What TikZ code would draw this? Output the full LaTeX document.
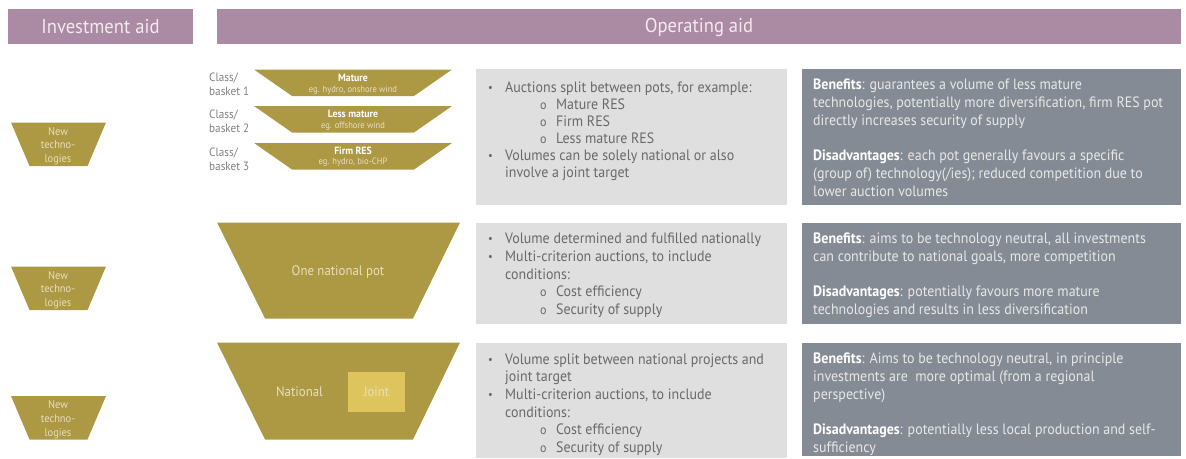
\documentclass[tikz,border=0pt]{standalone}
\usepackage{fontspec}
\usepackage{graphicx}
\setmainfont{PT Sans}[FakeStretch=0.93]
\definecolor{mauve}{RGB}{171,138,163}
\definecolor{gold}{RGB}{173,152,67}
\definecolor{jointc}{RGB}{222,196,92}
\definecolor{lgray}{RGB}{223,223,223}
\definecolor{dgray}{RGB}{133,139,148}
\definecolor{btext}{RGB}{105,105,105}
\definecolor{dtext}{RGB}{232,232,232}
\definecolor{htext}{RGB}{244,234,240}
\definecolor{gtext}{RGB}{232,224,190}
\definecolor{ctext}{RGB}{128,128,128}
\newcommand\bul[1]{\makebox[17pt][l]{\raisebox{1pt}{\scalebox{0.75}{•}}}#1}
\newcommand\subit[1]{\hspace*{52pt}\makebox[16pt][l]{\fontsize{13}{15}\selectfont o}#1}
\newcommand\cont[1]{\hspace*{17pt}#1}
\newcommand\hd[1]{{\bfseries\color{white}#1}}
\tikzset{
  hdr/.style={fill=mauve},
  hdrtext/.style={text=htext,font=\fontsize{20}{23}\selectfont,inner sep=0},
  pot/.style={fill=gold},
  lbox/.style={fill=lgray},
  dbox/.style={fill=dgray},
  btxt/.style={text=btext,font=\fontsize{15}{17.6}\selectfont,align=left,anchor=north west,inner sep=0},
  dtxt/.style={text=dtext,font=\fontsize{15}{17.7}\selectfont,align=left,anchor=north west,inner sep=0},
  newt/.style={text=gtext,font=\fontsize{11.2}{13.7}\selectfont,align=center,inner sep=0},
  cls/.style={text=ctext,font=\fontsize{12}{14}\selectfont,align=left,anchor=west,inner sep=0},
  mname/.style={text=white,font=\bfseries\fontsize{10.5}{12}\selectfont,inner sep=0},
  msub/.style={text=gtext,font=\fontsize{9.2}{11}\selectfont,inner sep=0},
  bigt/.style={text=gtext,font=\fontsize{13.8}{17}\selectfont,inner sep=0}
}
\begin{document}
\begin{tikzpicture}[x=1pt,y=-1pt]
\useasboundingbox (0,0) rectangle (1186,458);
% headers
\fill[hdr] (8,9) rectangle (193,44);
\fill[hdr] (217,9) rectangle (1181,44);
\node[hdrtext] (hinv) at (100.5,27) {Investment aid};
\node[hdrtext] (hop) at (699,27) {Operating aid};
% new technologies trapezoids
\foreach \yy/\nm in {122.5/nt1,266.5/nt2,396/nt3}{
  \fill[pot] (11,\yy) -- (106,\yy) -- (87.5,\yy+43.5) -- (29.5,\yy+43.5) -- cycle;
  \node[newt] (\nm) at (58,\yy+23.5) {New\\techno-\\logies};
}
% row 1 small trapezoids
\foreach \yy in {69.5,106,143}{
  \fill[pot] (254,\yy) -- (452,\yy) -- (414,\yy+26.5) -- (292,\yy+26.5) -- cycle;
}
\node[mname] (m1) at (353,77.5) {Mature};
\node[msub] (m1s) at (353,90) {eg. hydro, onshore wind};
\node[mname] (m2) at (353,114) {Less mature};
\node[msub] (m2s) at (353,126) {eg. offshore wind};
\node[mname] (m3) at (353,151) {Firm RES};
\node[msub] (m3s) at (353,162.5) {eg. hydro, bio-CHP};
\node[cls] (c1) at (209,84) {Class/\\basket 1};
\node[cls] (c2) at (209,121.5) {Class/\\basket 2};
\node[cls] (c3) at (209,159) {Class/\\basket 3};
% big trapezoids
\fill[pot] (217,222.5) -- (460,222.5) -- (413,318.5) -- (265,318.5) -- cycle;
\node[bigt] (onp) at (338,271.5) {One national pot};
\fill[pot] (217,342.5) -- (460,342.5) -- (413,439.5) -- (265,439.5) -- cycle;
\fill[jointc] (348,372) rectangle (405,411.5);
\node[bigt] (nat) at (299.5,392) {National};
\node[bigt] (jnt) at (376.5,392) {Joint};
% light boxes
\fill[lbox] (476,69) rectangle (787,204.5);
\fill[lbox] (476,223) rectangle (787,324);
\fill[lbox] (476,343) rectangle (787,458);
% dark boxes
\fill[dbox] (802,69) rectangle (1181,204.5);
\fill[dbox] (802,223) rectangle (1181,324);
\fill[dbox] (802,343) rectangle (1181,456);
% texts light boxes
\node[btxt,font=\fontsize{15}{16.9}\selectfont] (t1) at (488,82) {\bul{Auctions split between pots, for example:}\\
\subit{Mature RES}\\ \subit{Firm RES}\\ \subit{Less mature RES}\\
\bul{Volumes can be solely national or also}\\ \cont{involve a joint target}};
\node[btxt] (t2) at (488,233) {\bul{Volume determined and fulfilled nationally}\\
\bul{Multi-criterion auctions, to include}\\ \cont{conditions:}\\
\subit{Cost efficiency}\\ \subit{Security of supply}};
\node[btxt] (t3) at (488,353.5) {\bul{Volume split between national projects and}\\
\cont{joint target}\\
\bul{Multi-criterion auctions, to include}\\ \cont{conditions:}\\
\subit{Cost efficiency}\\ \subit{Security of supply}};
% texts dark boxes
\node[dtxt] (d1) at (813,79) {\hd{Benefits}: guarantees a volume of less mature\\
technologies, potentially more diversification, firm RES pot\\
directly increases security of supply\\[17.7pt]
\hd{Disadvantages}: each pot generally favours a specific\\
(group of) technology(/ies); reduced competition due to\\
lower auction volumes};
\node[dtxt] (d2) at (813,232.5) {\hd{Benefits}: aims to be technology neutral, all investments\\
can contribute to national goals, more competition\\[17.7pt]
\hd{Disadvantages}: potentially favours more mature\\
technologies and results in less diversification};
\node[dtxt] (d3) at (813,353) {\hd{Benefits}: Aims to be technology neutral, in principle\\
investments are~ more optimal (from a regional\\
perspective)\\[17.7pt]
\hd{Disadvantages}: potentially less local production and self-\\
sufficiency};
\end{tikzpicture}
\end{document}
